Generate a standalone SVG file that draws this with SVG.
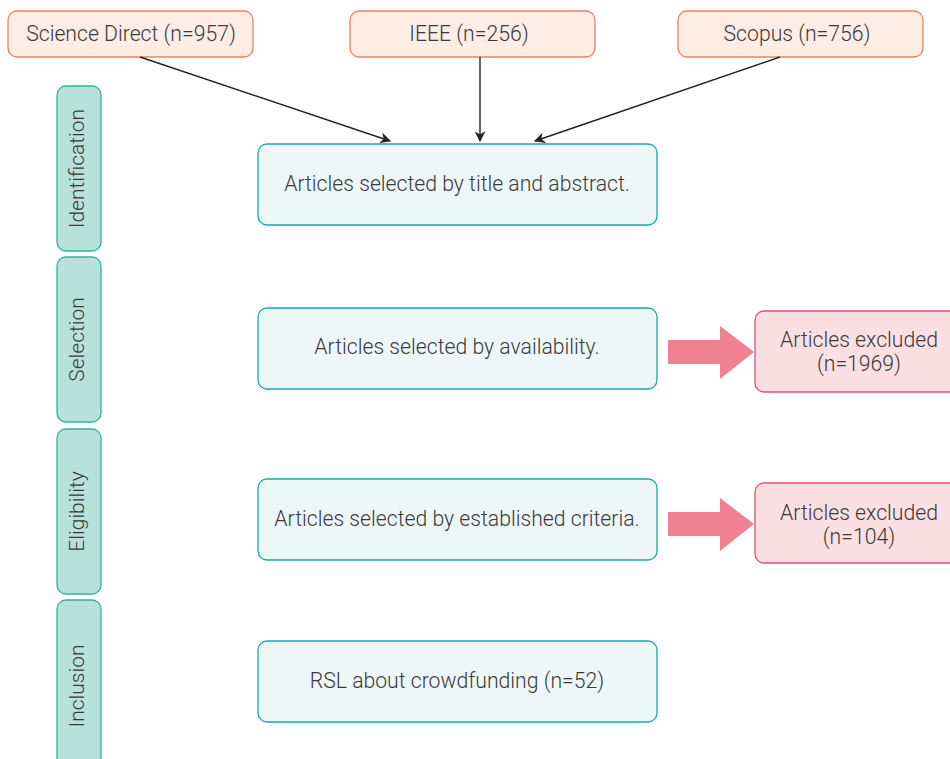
<svg xmlns="http://www.w3.org/2000/svg" width="950" height="759" viewBox="0 0 950 759">
<defs>
<style>
text{font-family:Roboto,"Liberation Sans",sans-serif;font-weight:300;fill:#3a3a3a;}
.src{fill:#fdede5;stroke:#f07f60;stroke-width:1.3;}
.side{fill:#b8e1d9;stroke:#2bb699;stroke-width:1.3;}
.main{fill:#eef7f8;stroke:#17a9ad;stroke-width:1.3;}
.exc{fill:#fbdfe2;stroke:#e44d7e;stroke-width:1.3;}
.t20{font-size:21.2px;text-anchor:middle;}
.t19{font-size:21.2px;text-anchor:middle;}
.ts{font-size:21px;text-anchor:middle;}
.conn{stroke:#222;stroke-width:1.4;fill:none;marker-end:url(#ah);}
.blk{fill:#f08193;}
</style>
<marker id="ah" viewBox="0 0 10 10" refX="9" refY="5" markerWidth="11" markerHeight="11" markerUnits="userSpaceOnUse" orient="auto"><path d="M0,0 L10,5 L0,10 L3,5 Z" fill="#222"/></marker>
</defs>
<rect width="950" height="759" fill="#fff"/>
<g id="src1"><rect class="src" x="8" y="11" width="245" height="46" rx="9"/><text class="t20" x="131" y="41">Science Direct (n=957)</text></g>
<g id="src2"><rect class="src" x="350" y="11" width="245" height="46" rx="9"/><text class="t20" x="469" y="41">IEEE (n=256)</text></g>
<g id="src3"><rect class="src" x="678" y="11" width="245" height="46" rx="9"/><text class="t20" x="797" y="41">Scopus (n=756)</text></g>
<g id="side1"><rect class="side" x="57" y="86" width="44" height="165" rx="9"/><text class="ts" transform="translate(84,168.5) rotate(-90)">Identification</text></g>
<g id="side2"><rect class="side" x="57" y="257" width="44" height="165" rx="9"/><text class="ts" transform="translate(84,339.5) rotate(-90)">Selection</text></g>
<g id="side3"><rect class="side" x="57" y="429" width="44" height="165" rx="9"/><text class="ts" transform="translate(84,511.5) rotate(-90)">Eligibility</text></g>
<g id="side4"><rect class="side" x="57" y="600" width="44" height="168" rx="9"/><text class="ts" transform="translate(84,686) rotate(-90)">Inclusion</text></g>
<g id="box1"><rect class="main" x="258" y="144" width="399" height="81" rx="9"/><text class="t19" x="457" y="191">Articles selected by title and abstract.</text></g>
<g id="box2"><rect class="main" x="258" y="308" width="399" height="81" rx="9"/><text class="t19" x="457" y="354">Articles selected by availability.</text></g>
<g id="box3"><rect class="main" x="258" y="479" width="399" height="81" rx="9"/><text class="t19" x="457" y="526">Articles selected by established criteria.</text></g>
<g id="box4"><rect class="main" x="258" y="641" width="399" height="81" rx="9"/><text class="t19" x="457" y="688">RSL about crowdfunding (n=52)</text></g>
<g id="exc1"><rect class="exc" x="755" y="311" width="205" height="81" rx="9"/><text class="t19" x="859" y="347">Articles excluded</text><text class="t19" x="859" y="371">(n=1969)</text></g>
<g id="exc2"><rect class="exc" x="755" y="483" width="205" height="80" rx="9"/><text class="t19" x="859" y="520">Articles excluded</text><text class="t19" x="859" y="544">(n=104)</text></g>
<g id="connectors">
<path class="conn" d="M140,57 L390,141"/>
<path class="conn" d="M480,57 L480,141"/>
<path class="conn" d="M780,57 L535,141"/>
<path class="blk" d="M668,340 L720,340 L720,326 L754,352 L720,379 L720,364 L668,364 Z"/>
<path class="blk" d="M668,512 L720,512 L720,498 L754,524 L720,551 L720,536 L668,536 Z"/>
</g>
</svg>
